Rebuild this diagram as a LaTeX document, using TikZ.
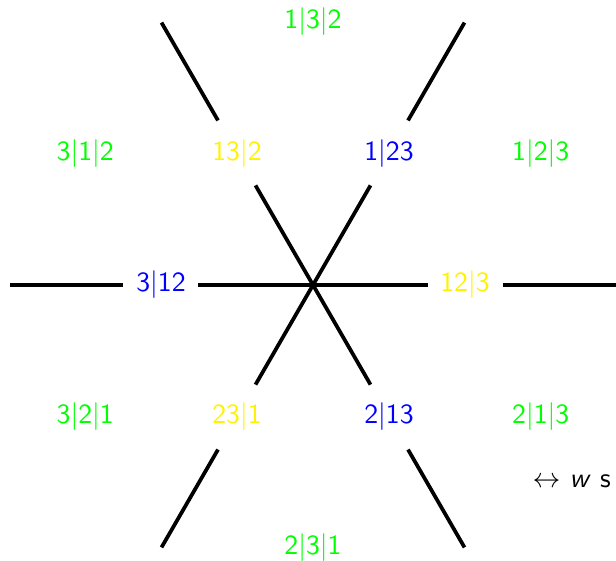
\documentclass[tikz,border=0pt]{standalone}
\usetikzlibrary{calc}
\renewcommand\familydefault{\sfdefault}
\begin{document}
\begin{tikzpicture}[x=0.36pt,y=0.36pt,
  seg/.style={line width=1.35pt},
  lab/.style={font=\sffamily, inner sep=0pt}]
\clip (0,0) rectangle (616,560);
\coordinate (c) at (313,275);
% edges with labels
\foreach \a/\t/\col [count=\i] in {0/12|3/yellow, 60/1|23/blue, 120/13|2/yellow, 180/3|12/blue, 240/23|1/yellow, 300/2|13/blue}{
  \node[lab, text=\col] (l\i) at ($(c)+(\a:152)$) {\t};
  \coordinate (a\i) at ($(c)+(\a:115)$);
  \coordinate (b\i) at ($(c)+(\a:190)$);
  \coordinate (e\i) at ($(c)+(\a:303)$);
  \draw[seg] (c) -- (a\i);
  \draw[seg] (b\i) -- (e\i);
}
% regions
\foreach \a/\t [count=\i] in {30/1|2|3, 90/1|3|2, 150/3|1|2, 210/3|2|1, 270/2|3|1, 330/2|1|3}{
  \node[lab, text=green] (r\i) at ($(c)+(\a:263)$) {\t};
}
\node[lab, anchor=west] (note) at (532,79) {$\leftrightarrow$ \textit{w} s};
\end{tikzpicture}
\end{document}
